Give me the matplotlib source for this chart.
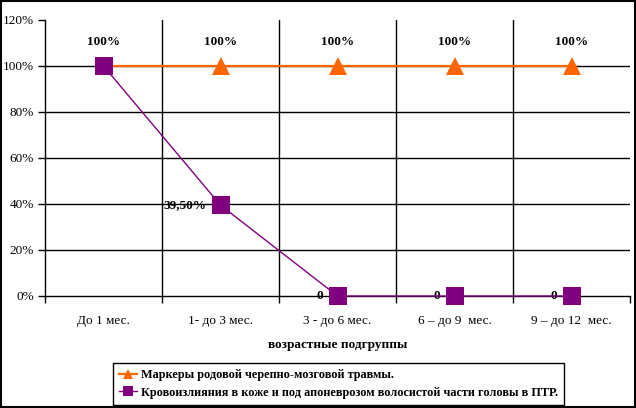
import numpy as np
import matplotlib
matplotlib.use('Agg')
from matplotlib import pyplot as plt
from matplotlib.patches import Rectangle
from matplotlib.ticker import FuncFormatter

## ================================ data ===========================
categories = ['До 1 мес.', '1- до 3 мес.', '3 - до 6 мес.', '6 – до 9  мес.', '9 – до 12  мес.']
markers_tbi = [100, 100, 100, 100, 100]
hemorrhage = [100, 39.5, 0, 0, 0]
labels_tbi = ['100%', '100%', '100%', '100%', '100%']
labels_hem = [None, '39,50%', '0', '0', '0']
series_names = ['Маркеры родовой черепно-мозговой травмы.',
                'Кровоизлияния в коже и под апоневрозом волосистой части головы в ПТР.']
yticks = [0, 20, 40, 60, 80, 100, 120]

plt.rcParams['font.family'] = ['Liberation Serif', 'DejaVu Serif']

W, H = 636, 408
fig = plt.figure(figsize=(W/100, H/100), dpi=100)
ax = fig.add_axes([45/W, (H-296)/H, (630-45)/W, (296-20)/H])

x = np.arange(len(categories))
orange = '#FF6600'
purple = '#800080'

ax.plot(x, markers_tbi, color=orange, lw=1.6, marker='^', ms=13, mew=0, mfc=orange,
        label=series_names[0], zorder=3, clip_on=False)
ax.plot(x, hemorrhage, color=purple, lw=1.0, marker='s', ms=13, mew=0, mfc=purple,
        label=series_names[1], zorder=4, clip_on=False)

# data labels
for xi, v, t in zip(x, markers_tbi, labels_tbi):
    ax.annotate(t, (xi, v), xytext=(0, 17), textcoords='offset points',
                ha='center', va='center', fontsize=9.5, fontweight='bold')
for xi, v, t in zip(x, hemorrhage, labels_hem):
    if t is None:
        continue
    ax.annotate(t, (xi, v), xytext=(-10, 0), textcoords='offset points',
                ha='right', va='center', fontsize=9.5, fontweight='bold')

## axes
ax.set_xlim(-0.5, len(categories)-0.5)
ax.set_ylim(0, 120)
ax.set_yticks(yticks)
ax.yaxis.set_major_formatter(FuncFormatter(lambda v, p: '%d%%' % v))
ax.tick_params(axis='y', direction='out', length=5, width=1, labelsize=9.5, pad=3)
ax.set_xticks(x)
ax.set_xticklabels(categories, fontsize=9.5)
ax.tick_params(axis='x', which='major', length=0, pad=14)
ax.set_xticks(np.arange(-0.5, len(categories)), minor=True)
ax.tick_params(axis='x', which='minor', direction='out', length=5, width=1)

for s in ['top', 'right']:
    ax.spines[s].set_visible(False)
for s in ['left', 'bottom']:
    ax.spines[s].set_linewidth(1)

# grid: horizontal 20..100, vertical at inner category boundaries
for yv in yticks[1:-1]:
    ax.axhline(yv, color='k', lw=1, zorder=1)
for xv in np.arange(0.5, len(categories)-1):
    ax.axvline(xv, color='k', lw=1, zorder=1)

ax.set_xlabel('возрастные подгруппы', fontsize=9.5, fontweight='bold', labelpad=8)

leg = fig.legend(loc='upper left', bbox_to_anchor=(113/W, (H-363)/H), borderaxespad=0,
                 fancybox=False, edgecolor='k', framealpha=1, markerscale=0.6,
                 handlelength=1.5, handletextpad=0.3, borderpad=0.5, labelspacing=0.45,
                 prop={'family': 'Liberation Serif', 'weight': 'bold', 'size': 8.8})
leg.get_frame().set_linewidth(1)

# outer frame of the chart
fig.patches.append(Rectangle((0.0015, 0.0025), 0.997, 0.995, transform=fig.transFigure,
                             fill=False, edgecolor='k', lw=1.5))

fig.savefig('out.png', dpi=100)
